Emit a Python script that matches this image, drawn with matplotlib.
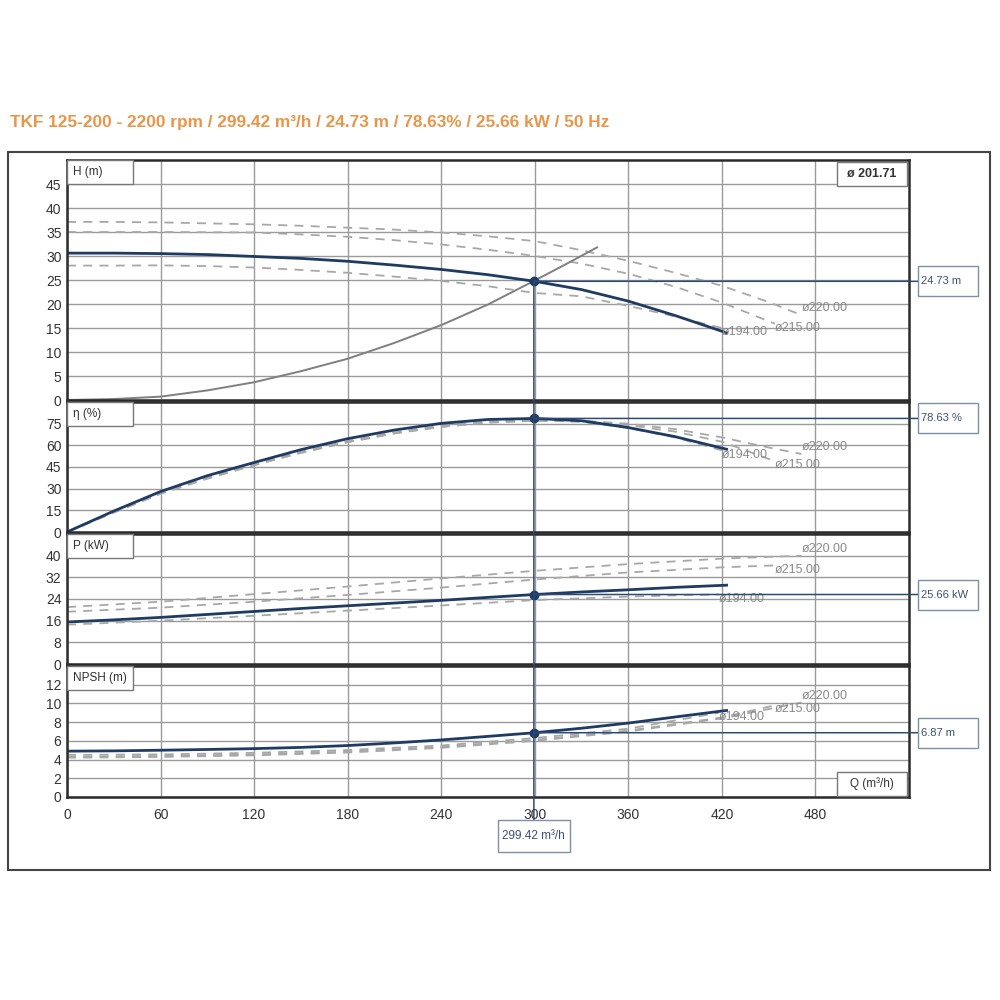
import matplotlib
matplotlib.use("Agg")
import matplotlib.pyplot as plt
from matplotlib.patches import Rectangle, ConnectionPatch

plt.rcParams['font.family'] = ['Liberation Sans', 'DejaVu Sans']

# ---------------- data ----------------

title = "TKF 125-200 - 2200 rpm / 299.42 m³/h / 24.73 m / 78.63% / 25.66 kW / 50 Hz"

# operating point
q_op = 299.42
h_op = 24.73
eta_op = 78.63
p_op = 25.66
npsh_op = 6.87

# selected impeller 201.71
q_sel = [0, 30, 60, 90, 120, 150, 180, 210, 240, 270, 300, 330, 360, 390, 423]
h_sel = [30.6, 30.6, 30.5, 30.3, 29.9, 29.5, 28.9, 28.1, 27.2, 26.1, 24.73, 23.0, 20.6, 17.6, 14.0]
eta_sel = [0, 14.5, 28.0, 39.0, 48.1, 57.0, 64.6, 70.6, 75.2, 77.9, 78.6, 77.0, 72.3, 66.0, 57.3]
p_sel = [15.5, 16.3, 17.2, 18.3, 19.4, 20.5, 21.5, 22.5, 23.5, 24.6, 25.66, 26.6, 27.4, 28.3, 29.1]
npsh_sel = [4.9, 4.93, 5.0, 5.08, 5.17, 5.3, 5.5, 5.78, 6.1, 6.48, 6.87, 7.35, 7.9, 8.55, 9.25]

# system curve
q_sys = [0, 30, 60, 90, 120, 150, 180, 210, 240, 270, 300, 320, 340]
h_sys = [0, 0.2, 0.7, 2.0, 3.7, 6.0, 8.6, 11.9, 15.6, 19.9, 24.9, 28.3, 31.8]

# other impeller diameters (dashed)
diam_names = ["ø194.00", "ø215.00", "ø220.00"]

q_194 = [0, 30, 60, 90, 120, 150, 180, 210, 240, 270, 300, 330, 360, 390, 420]
h_194 = [28.0, 28.0, 28.05, 27.9, 27.6, 27.1, 26.5, 25.7, 24.8, 23.7, 22.3, 21.6, 19.6, 17.4, 15.0]
eta_194 = [0, 14.0, 27.3, 38.0, 47.3, 55.6, 63.0, 69.0, 73.6, 76.5, 77.6, 76.3, 72.0, 65.5, 56.5]

q_215 = [0, 30, 60, 90, 120, 150, 180, 210, 240, 270, 300, 330, 360, 390, 420, 454]
h_215 = [35.0, 35.0, 35.0, 34.95, 34.9, 34.5, 34.0, 33.3, 32.4, 31.3, 30.0, 28.4, 26.3, 23.6, 20.3, 15.9]
eta_215 = [0, 13.5, 26.5, 37.0, 46.3, 54.8, 62.2, 68.3, 72.8, 75.7, 77.0, 76.5, 74.0, 69.5, 62.5, 49.0]

q_220 = [0, 30, 60, 90, 120, 150, 180, 210, 240, 270, 300, 330, 360, 390, 420, 450, 471]
h_220 = [37.1, 37.1, 37.0, 36.8, 36.6, 36.3, 35.9, 35.5, 34.9, 34.1, 33.1, 31.2, 29.0, 26.5, 23.8, 20.4, 17.7]
eta_220 = [0, 13.5, 26.5, 37.0, 46.3, 54.8, 62.2, 68.3, 72.8, 75.8, 77.2, 77.0, 75.0, 71.2, 65.5, 58.5, 54.0]

# power and NPSH of the other diameters (coarser reading)
qp_194 = [0, 60, 120, 180, 240, 300, 360, 418]
p_194 = [14.5, 16.0, 17.8, 19.7, 21.6, 23.6, 24.9, 25.7]
n_194 = [4.5, 4.55, 4.72, 5.02, 5.5, 6.3, 7.3, 9.0]

qp_215 = [0, 60, 120, 180, 240, 300, 360, 420, 454]
p_215 = [19.3, 20.8, 23.0, 25.5, 28.2, 31.2, 33.8, 35.7, 36.4]
n_215 = [4.3, 4.38, 4.55, 4.85, 5.35, 6.1, 7.1, 8.5, 9.8]

qp_220 = [0, 60, 120, 180, 240, 300, 360, 420, 471]
p_220 = [21.0, 23.0, 25.8, 28.6, 31.6, 34.4, 36.9, 38.9, 40.0]
n_220 = [4.2, 4.28, 4.45, 4.75, 5.25, 6.0, 7.0, 8.4, 10.1]

# axes ticks
q_ticks = [0, 60, 120, 180, 240, 300, 360, 420, 480]
h_ticks = [0, 5, 10, 15, 20, 25, 30, 35, 40, 45]
eta_ticks = [0, 15, 30, 45, 60, 75]
p_ticks = [0, 8, 16, 24, 32, 40]
npsh_ticks = [0, 2, 4, 6, 8, 10, 12]

# ---------------- styles ----------------
navy = '#1f3b63'
opline = '#2c4a78'
dash_col = '#a8a8a8'
txt_grey = '#8a8a8a'

fig = plt.figure(figsize=(10, 10), dpi=100)

axH = fig.add_axes([0.067, 0.600, 0.842, 0.240])
axE = fig.add_axes([0.067, 0.468, 0.842, 0.130])
axP = fig.add_axes([0.067, 0.336, 0.842, 0.130])
axN = fig.add_axes([0.067, 0.203, 0.842, 0.131])

panels = [(axH, h_ticks, 50), (axE, eta_ticks, 90), (axP, p_ticks, 48), (axN, npsh_ticks, 14)]
for ax, yt, ymax in panels:
    ax.set_xlim(0, 540)
    ax.set_ylim(0, ymax)
    ax.set_xticks(q_ticks)
    ax.set_yticks(yt)
    ax.grid(True, color='#9a9a9a', lw=1.0)
    ax.set_axisbelow(True)
    ax.tick_params(length=0, labelsize=10, labelcolor='#333333', pad=4)
    for s in ax.spines.values():
        s.set_color('#2b2b2b')
        s.set_linewidth(1.8)
    if ax is not axN:
        ax.tick_params(labelbottom=False)
axN.tick_params(axis='x', pad=8)

dash_kw = dict(color=dash_col, lw=1.3, dashes=(5, 4))
lab_kw = dict(textcoords='offset points', ha='left', va='center', fontsize=9, color=txt_grey)
# the ø220 label sits a little higher so it does not sit on top of ø215
lab_dy = [-3, -3, 5]


def dashed_curves(ax, curves):
    for (q, v), name, dy in zip(curves, diam_names, lab_dy):
        ax.plot(q, v, **dash_kw)
        ax.annotate(name, (q[-1], v[-1]), xytext=(0, dy), **lab_kw)


# H panel
dashed_curves(axH, [(q_194, h_194), (q_215, h_215), (q_220, h_220)])
axH.plot(q_sys, h_sys, color='#7f7f7f', lw=1.4)
axH.plot(q_sel, h_sel, color=navy, lw=2.0)

# efficiency panel
dashed_curves(axE, [(q_194, eta_194), (q_215, eta_215), (q_220, eta_220)])
axE.plot(q_sel, eta_sel, color=navy, lw=2.0)

# power panel
dashed_curves(axP, [(qp_194, p_194), (qp_215, p_215), (qp_220, p_220)])
axP.plot(q_sel, p_sel, color=navy, lw=2.0)

# NPSH panel
dashed_curves(axN, [(qp_194, n_194), (qp_215, n_215), (qp_220, n_220)])
axN.plot(q_sel, npsh_sel, color=navy, lw=2.0)

to_fig = fig.transFigure.inverted()

# operating point markers, lines to the value boxes
for ax, val, text in [(axH, h_op, "24.73 m"), (axE, eta_op, "78.63 %"),
                      (axP, p_op, "25.66 kW"), (axN, npsh_op, "6.87 m")]:
    ax.plot([q_op], [val], 'o', color=navy, ms=6, zorder=5)
    yf = to_fig.transform(ax.transData.transform((q_op, val)))[1]
    fig.add_artist(ConnectionPatch((q_op, val), (0.918, yf), coordsA=ax.transData,
                                   coordsB=fig.transFigure, color=opline, lw=1.1))
    fig.add_artist(Rectangle((0.918, yf - 0.015), 0.060, 0.030, transform=fig.transFigure,
                             fc='white', ec='#7d90a8', lw=1.0))
    fig.text(0.921, yf, text, fontsize=8, color='#3d5070', va='center', ha='left')

# vertical line of the operating flow down to its box
xf = to_fig.transform(axN.transData.transform((q_op, 0)))[0]
fig.add_artist(ConnectionPatch((q_op, h_op), (xf, 0.180), coordsA=axH.transData,
                               coordsB=fig.transFigure, color=opline, lw=1.1))
fig.add_artist(Rectangle((xf - 0.036, 0.148), 0.072, 0.032, transform=fig.transFigure,
                         fc='white', ec='#7d90a8', lw=1.0))
fig.text(xf, 0.164, "299.42 m³/h", fontsize=8.5, color='#3d5070', va='center', ha='center')

# panel name boxes
for ax, name in [(axH, "H (m)"), (axE, "η (%)"), (axP, "P (kW)"), (axN, "NPSH (m)")]:
    pos = ax.get_position()
    fig.add_artist(Rectangle((pos.x0, pos.y1 - 0.024), 0.066, 0.024, transform=fig.transFigure,
                             fc='white', ec='#777777', lw=1.0))
    fig.text(pos.x0 + 0.006, pos.y1 - 0.012, name, fontsize=8.5, color='#333333', va='center')

pos = axH.get_position()
fig.add_artist(Rectangle((pos.x1 - 0.072, pos.y1 - 0.026), 0.070, 0.024, transform=fig.transFigure,
                         fc='white', ec='#777777', lw=1.0))
fig.text(pos.x1 - 0.037, pos.y1 - 0.014, "ø 201.71", fontsize=9, fontweight='bold',
         color='#333333', va='center', ha='center')

pos = axN.get_position()
fig.add_artist(Rectangle((pos.x1 - 0.072, pos.y0 + 0.001), 0.070, 0.024, transform=fig.transFigure,
                         fc='white', ec='#777777', lw=1.0))
fig.text(pos.x1 - 0.037, pos.y0 + 0.013, "Q (m³/h)", fontsize=8.5, color='#333333',
         va='center', ha='center')

# outer frame and title
fig.add_artist(Rectangle((0.008, 0.130), 0.982, 0.718, transform=fig.transFigure,
                         fill=False, ec='#444444', lw=1.5))
fig.text(0.010, 0.877, title, color='#e8964a', fontsize=12.4, fontweight='bold', va='center')

plt.savefig("out.png", dpi=100)
